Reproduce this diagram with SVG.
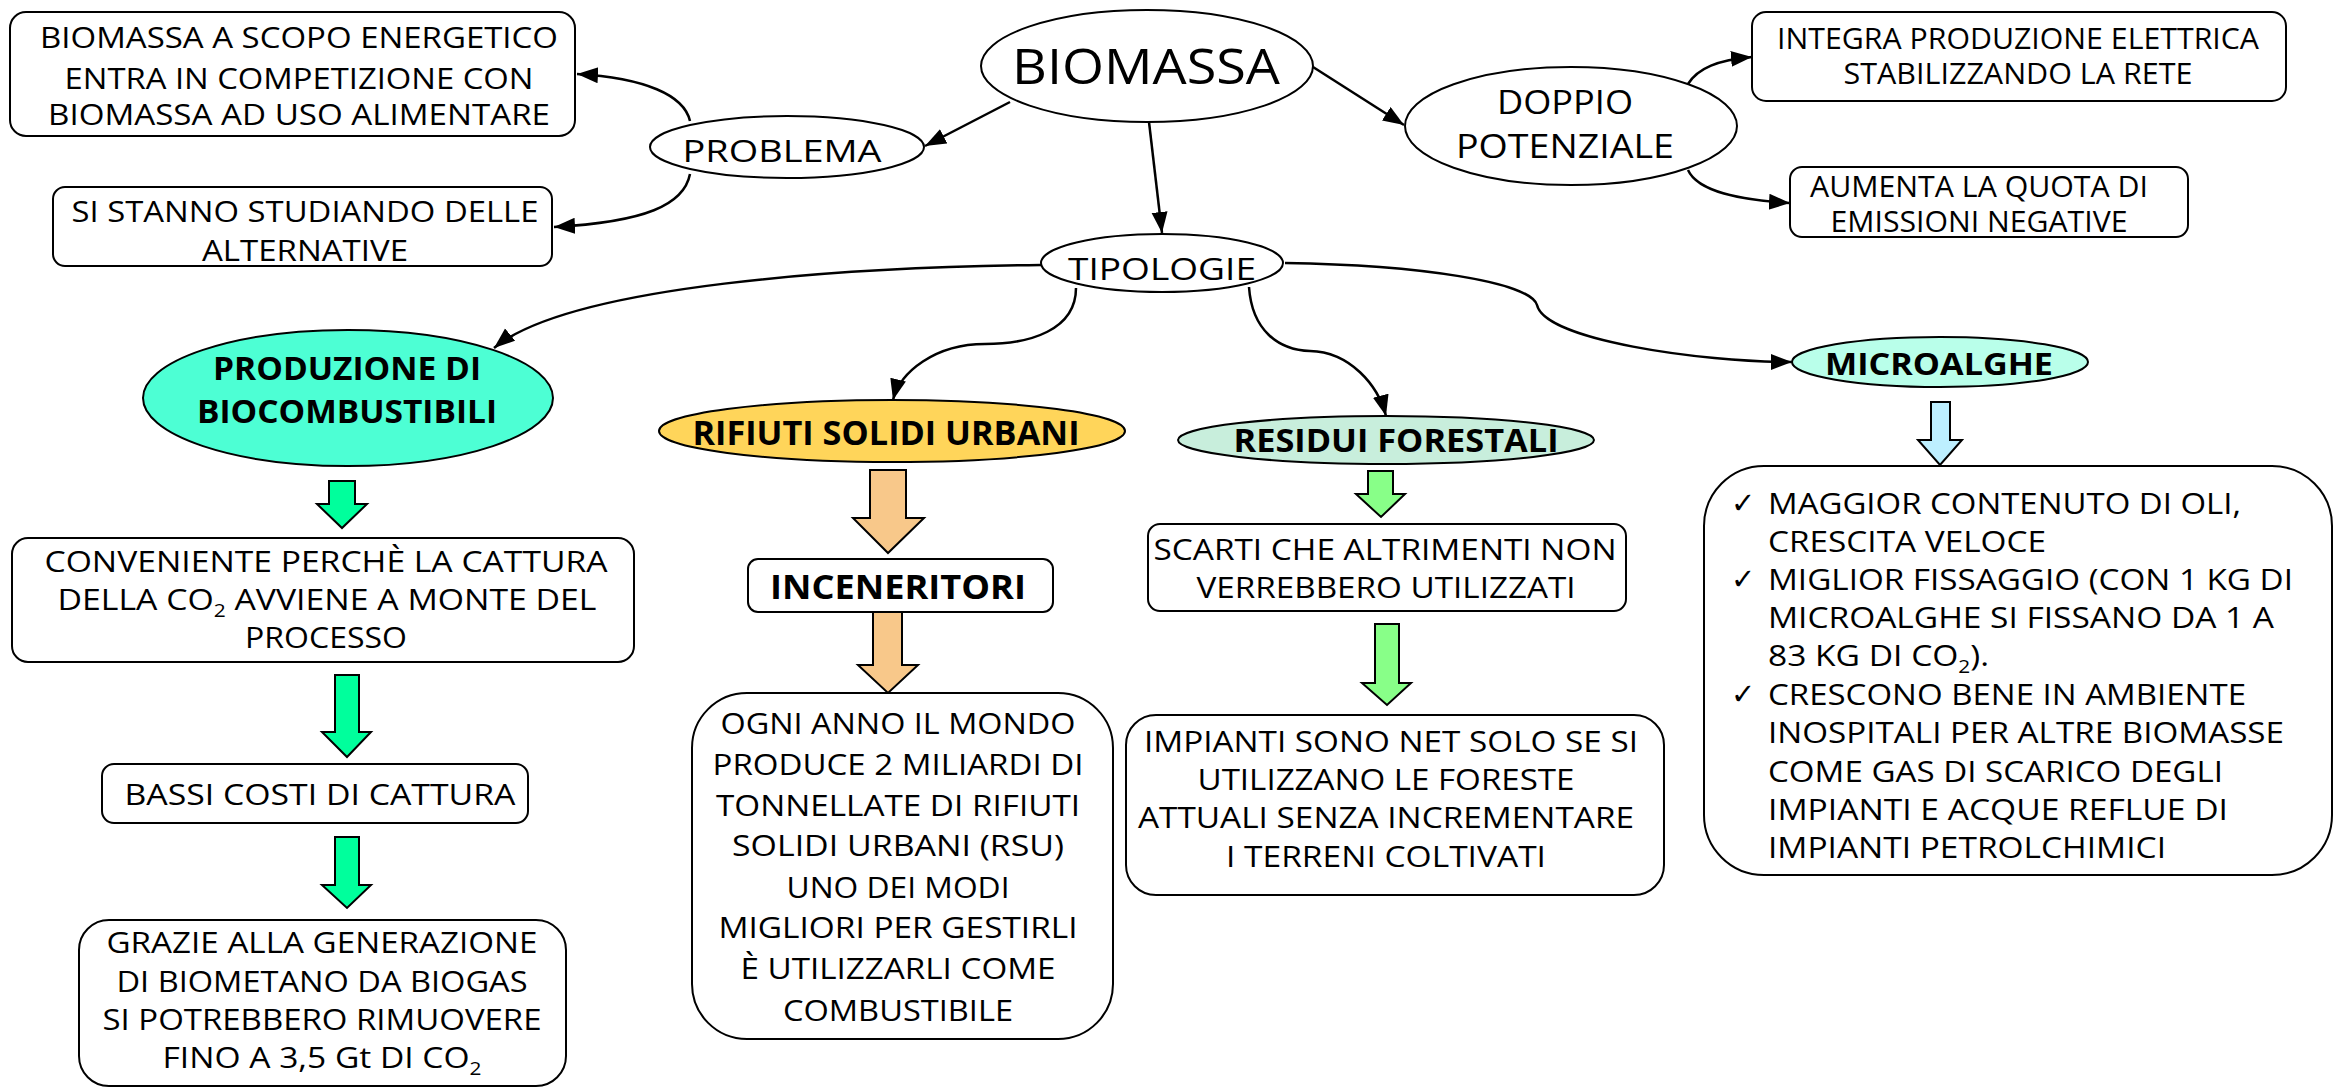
<svg xmlns="http://www.w3.org/2000/svg" width="2341" height="1088" viewBox="0 0 2341 1088">
  <style>
    text { font-family: "Open Sans", "Liberation Sans", sans-serif; fill: #000; text-anchor: middle; }
    .t { font-size: 29px; }
    .tl { font-size: 29px; text-anchor: start; }
    .b { font-weight: 700; }
    .box { fill: #fff; stroke: #000; stroke-width: 2; }
    .ell { fill: #fff; stroke: #000; stroke-width: 2; }
    .conn { fill: none; stroke: #000; stroke-width: 2.5; marker-end: url(#arrow); }
    .blk { stroke: #000; stroke-width: 2; stroke-linejoin: miter; }
    .chk { font-family: "DejaVu Sans", sans-serif; font-size: 29px; text-anchor: start; }
  </style>
  <defs>
    <marker id="arrow" markerUnits="userSpaceOnUse" markerWidth="22" markerHeight="18" refX="21" refY="8" orient="auto">
      <path d="M0,0 L21,8 L0,16 z" fill="#000"/>
    </marker>
  </defs>

  <rect width="2341" height="1088" fill="#fff"/>

  <!-- connectors -->
  <g id="connectors">
    <path class="conn" d="M1010,102 L925,146"/>
    <path class="conn" d="M1149,122 L1162,233"/>
    <path class="conn" d="M1313,67 L1404,125"/>
    <path class="conn" d="M690,121 C684,95 645,78 577,74"/>
    <path class="conn" d="M690,174 C684,205 645,222 554,227"/>
    <path class="conn" d="M1688,84 C1698,68 1718,60 1752,57"/>
    <path class="conn" d="M1688,170 C1698,192 1740,200 1790,203"/>
    <path class="conn" d="M1041,265 C850,267 570,285 494,348"/>
    <path class="conn" d="M1076,288 C1076,330 1030,344 985,344 C935,344 900,372 893,400"/>
    <path class="conn" d="M1249,287 C1252,330 1278,350 1310,351 C1350,352 1378,385 1386,416"/>
    <path class="conn" d="M1285,263 C1420,265 1530,282 1537,305 C1545,340 1700,362 1792,362"/>
  </g>

  <!-- block arrows between stacked nodes -->
  <g id="block-arrows">
    <polygon class="blk" fill="#00FF9C" points="329,481 355,481 355,504 367,504 342,528 317,504 329,504"/>
    <polygon class="blk" fill="#00FF9C" points="335,675 359,675 359,732 371,732 347,757 322,732 335,732"/>
    <polygon class="blk" fill="#00FF9C" points="335,837 359,837 359,885 371,885 347,908 322,885 335,885"/>
    <polygon class="blk" fill="#F8C88A" points="870,470 906,470 906,518 924,518 888,553 853,518 870,518"/>
    <polygon class="blk" fill="#F8C88A" points="873,612 902,612 902,665 918,665 888,693 858,665 873,665"/>
    <polygon class="blk" fill="#88FF88" points="1368,471 1393,471 1393,494 1405,494 1381,517 1356,494 1368,494"/>
    <polygon class="blk" fill="#88FF88" points="1375,624 1399,624 1399,683 1411,683 1387,705 1362,683 1375,683"/>
    <polygon class="blk" fill="#BDEFFF" points="1931,402 1950,402 1950,440 1962,440 1940,465 1918,440 1931,440"/>
  </g>

  <!-- central node -->
  <g id="n-biomassa">
    <ellipse class="ell" cx="1147" cy="66" rx="166" ry="56"/>
    <text x="1146" y="84" font-size="50" textLength="268" lengthAdjust="spacingAndGlyphs">BIOMASSA</text>
  </g>

  <g id="n-problema">
    <ellipse class="ell" cx="787" cy="147" rx="137" ry="31"/>
    <text x="782" y="162" font-size="31" textLength="199" lengthAdjust="spacingAndGlyphs">PROBLEMA</text>
  </g>

  <g id="n-competizione">
    <rect class="box" x="10" y="12" width="565" height="124" rx="16"/>
    <text class="t" x="299" y="48" textLength="518" lengthAdjust="spacingAndGlyphs">BIOMASSA A SCOPO ENERGETICO</text>
    <text class="t" x="299" y="89" textLength="469" lengthAdjust="spacingAndGlyphs">ENTRA IN COMPETIZIONE CON</text>
    <text class="t" x="299" y="125" textLength="502" lengthAdjust="spacingAndGlyphs">BIOMASSA AD USO ALIMENTARE</text>
  </g>

  <g id="n-alternative">
    <rect class="box" x="53" y="187" width="499" height="79" rx="12"/>
    <text class="t" x="305" y="222" textLength="467" lengthAdjust="spacingAndGlyphs">SI STANNO STUDIANDO DELLE</text>
    <text class="t" x="305" y="261" textLength="206" lengthAdjust="spacingAndGlyphs">ALTERNATIVE</text>
  </g>

  <g id="n-doppio">
    <ellipse class="ell" cx="1571" cy="126" rx="166" ry="59"/>
    <text x="1565" y="114" font-size="33" textLength="136" lengthAdjust="spacingAndGlyphs">DOPPIO</text>
    <text x="1565" y="158" font-size="33" textLength="218" lengthAdjust="spacingAndGlyphs">POTENZIALE</text>
  </g>

  <g id="n-integra">
    <rect class="box" x="1752" y="12" width="534" height="89" rx="14"/>
    <text class="t" x="2018" y="49" textLength="482" lengthAdjust="spacingAndGlyphs">INTEGRA PRODUZIONE ELETTRICA</text>
    <text class="t" x="2018" y="84" textLength="349" lengthAdjust="spacingAndGlyphs">STABILIZZANDO LA RETE</text>
  </g>

  <g id="n-aumenta">
    <rect class="box" x="1790" y="167" width="398" height="70" rx="12"/>
    <text class="t" x="1979" y="197" textLength="338" lengthAdjust="spacingAndGlyphs">AUMENTA LA QUOTA DI</text>
    <text class="t" x="1979" y="232" textLength="297" lengthAdjust="spacingAndGlyphs">EMISSIONI NEGATIVE</text>
  </g>

  <g id="n-tipologie">
    <ellipse class="ell" cx="1162" cy="263" rx="121" ry="29"/>
    <text x="1162" y="280" font-size="31" textLength="188" lengthAdjust="spacingAndGlyphs">TIPOLOGIE</text>
  </g>

  <!-- biofuel branch -->
  <g id="n-biocombustibili">
    <ellipse cx="348" cy="398" rx="205" ry="68" fill="#4DFFD4" stroke="#000" stroke-width="2"/>
    <text class="b" x="347" y="380" font-size="33" textLength="268" lengthAdjust="spacingAndGlyphs">PRODUZIONE DI</text>
    <text class="b" x="347" y="423" font-size="33" textLength="300" lengthAdjust="spacingAndGlyphs">BIOCOMBUSTIBILI</text>
  </g>

  <g id="n-conveniente">
    <rect class="box" x="12" y="538" width="622" height="124" rx="16"/>
    <text class="t" x="326" y="572" textLength="563" lengthAdjust="spacingAndGlyphs">CONVENIENTE PERCHÈ LA CATTURA</text>
    <text class="t" x="327" y="610" textLength="539" lengthAdjust="spacingAndGlyphs">DELLA CO<tspan font-size="18" dy="7">2</tspan><tspan dy="-7"> AVVIENE A MONTE DEL</tspan></text>
    <text class="t" x="326" y="648" textLength="162" lengthAdjust="spacingAndGlyphs">PROCESSO</text>
  </g>

  <g id="n-bassi-costi">
    <rect class="box" x="102" y="764" width="426" height="59" rx="12"/>
    <text class="t" x="320" y="805" textLength="391" lengthAdjust="spacingAndGlyphs">BASSI COSTI DI CATTURA</text>
  </g>

  <g id="n-biometano">
    <rect class="box" x="79" y="920" width="487" height="166" rx="30"/>
    <text class="t" x="322" y="953" textLength="431" lengthAdjust="spacingAndGlyphs">GRAZIE ALLA GENERAZIONE</text>
    <text class="t" x="322" y="992" textLength="411" lengthAdjust="spacingAndGlyphs">DI BIOMETANO DA BIOGAS</text>
    <text class="t" x="322" y="1030" textLength="439" lengthAdjust="spacingAndGlyphs">SI POTREBBERO RIMUOVERE</text>
    <text class="t" x="322" y="1068" textLength="319" lengthAdjust="spacingAndGlyphs">FINO A 3,5 Gt DI CO<tspan font-size="18" dy="7">2</tspan></text>
  </g>

  <!-- municipal waste branch -->
  <g id="n-rifiuti">
    <ellipse cx="892" cy="431" rx="233" ry="31" fill="#FFD55A" stroke="#000" stroke-width="2"/>
    <text class="b" x="886" y="445" font-size="34" textLength="387" lengthAdjust="spacingAndGlyphs">RIFIUTI SOLIDI URBANI</text>
  </g>

  <g id="n-inceneritori">
    <rect class="box" x="748" y="559" width="305" height="53" rx="10"/>
    <text class="b" x="898" y="599" font-size="34" textLength="256" lengthAdjust="spacingAndGlyphs">INCENERITORI</text>
  </g>

  <g id="n-rsu">
    <rect class="box" x="692" y="693" width="421" height="346" rx="55"/>
    <text x="898" y="734" font-size="29" textLength="355" lengthAdjust="spacingAndGlyphs">OGNI ANNO IL MONDO</text>
    <text x="898" y="775" font-size="29" textLength="371" lengthAdjust="spacingAndGlyphs">PRODUCE 2 MILIARDI DI</text>
    <text x="898" y="816" font-size="29" textLength="364" lengthAdjust="spacingAndGlyphs">TONNELLATE DI RIFIUTI</text>
    <text x="898" y="856" font-size="29" textLength="332" lengthAdjust="spacingAndGlyphs">SOLIDI URBANI (RSU)</text>
    <text x="898" y="898" font-size="29" textLength="223" lengthAdjust="spacingAndGlyphs">UNO DEI MODI</text>
    <text x="898" y="938" font-size="29" textLength="359" lengthAdjust="spacingAndGlyphs">MIGLIORI PER GESTIRLI</text>
    <text x="898" y="979" font-size="29" textLength="315" lengthAdjust="spacingAndGlyphs">È UTILIZZARLI COME</text>
    <text x="898" y="1021" font-size="29" textLength="230" lengthAdjust="spacingAndGlyphs">COMBUSTIBILE</text>
  </g>

  <!-- forest residue branch -->
  <g id="n-residui">
    <ellipse cx="1386" cy="440" rx="208" ry="24" fill="#C8EEDC" stroke="#000" stroke-width="2"/>
    <text class="b" x="1396" y="452" font-size="32" textLength="325" lengthAdjust="spacingAndGlyphs">RESIDUI FORESTALI</text>
  </g>

  <g id="n-scarti">
    <rect class="box" x="1148" y="524" width="478" height="87" rx="12"/>
    <text class="t" x="1385" y="560" textLength="463" lengthAdjust="spacingAndGlyphs">SCARTI CHE ALTRIMENTI NON</text>
    <text class="t" x="1386" y="598" textLength="379" lengthAdjust="spacingAndGlyphs">VERREBBERO UTILIZZATI</text>
  </g>

  <g id="n-impianti">
    <rect class="box" x="1126" y="715" width="538" height="180" rx="30"/>
    <text class="t" x="1391" y="752" textLength="494" lengthAdjust="spacingAndGlyphs">IMPIANTI SONO NET SOLO SE SI</text>
    <text class="t" x="1386" y="790" textLength="377" lengthAdjust="spacingAndGlyphs">UTILIZZANO LE FORESTE</text>
    <text class="t" x="1386" y="828" textLength="496" lengthAdjust="spacingAndGlyphs">ATTUALI SENZA INCREMENTARE</text>
    <text class="t" x="1386" y="867" textLength="320" lengthAdjust="spacingAndGlyphs">I TERRENI COLTIVATI</text>
  </g>

  <!-- microalgae branch -->
  <g id="n-microalghe">
    <ellipse cx="1940" cy="362" rx="148" ry="25" fill="#B9FFEA" stroke="#000" stroke-width="2"/>
    <text class="b" x="1939" y="375" font-size="31" textLength="228" lengthAdjust="spacingAndGlyphs">MICROALGHE</text>
  </g>

  <g id="n-vantaggi">
    <rect class="box" x="1704" y="466" width="628" height="409" rx="60"/>
    <text class="chk" x="1731" y="513">✓</text>
    <text class="chk" x="1731" y="589">✓</text>
    <text class="chk" x="1731" y="704">✓</text>
    <text class="tl" x="1768" y="514" textLength="473" lengthAdjust="spacingAndGlyphs">MAGGIOR CONTENUTO DI OLI,</text>
    <text class="tl" x="1768" y="552" textLength="278" lengthAdjust="spacingAndGlyphs">CRESCITA VELOCE</text>
    <text class="tl" x="1768" y="590" textLength="525" lengthAdjust="spacingAndGlyphs">MIGLIOR FISSAGGIO (CON 1 KG DI</text>
    <text class="tl" x="1768" y="628" textLength="506" lengthAdjust="spacingAndGlyphs">MICROALGHE SI FISSANO DA 1 A</text>
    <text class="tl" x="1768" y="666" textLength="221" lengthAdjust="spacingAndGlyphs">83 KG DI CO<tspan font-size="18" dy="7">2</tspan><tspan dy="-7">).</tspan></text>
    <text class="tl" x="1768" y="705" textLength="478" lengthAdjust="spacingAndGlyphs">CRESCONO BENE IN AMBIENTE</text>
    <text class="tl" x="1768" y="743" textLength="516" lengthAdjust="spacingAndGlyphs">INOSPITALI PER ALTRE BIOMASSE</text>
    <text class="tl" x="1768" y="782" textLength="455" lengthAdjust="spacingAndGlyphs">COME GAS DI SCARICO DEGLI</text>
    <text class="tl" x="1768" y="820" textLength="460" lengthAdjust="spacingAndGlyphs">IMPIANTI E ACQUE REFLUE DI</text>
    <text class="tl" x="1768" y="858" textLength="398" lengthAdjust="spacingAndGlyphs">IMPIANTI PETROLCHIMICI</text>
  </g>
</svg>
